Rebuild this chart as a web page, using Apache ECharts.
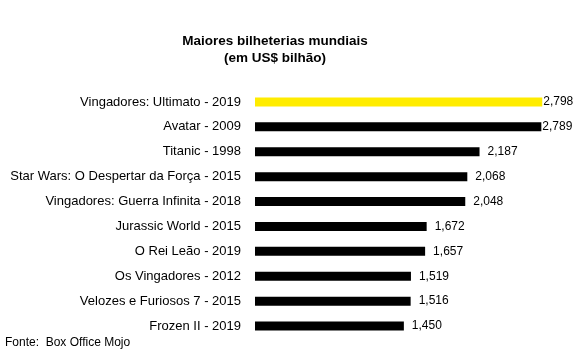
<!DOCTYPE html>
<html>
<head>
<meta charset="utf-8">
<script src="https://cdn.jsdelivr.net/npm/echarts@6/dist/echarts.min.js"></script>
<style>
  html, body { margin: 0; padding: 0; background: #fff; }
  #chart { width: 578px; height: 354px; }
</style>
</head>
<body>
<div id="chart"></div>
<script>
  // filmes, de cima para baixo
  var filmes = [
    'Vingadores: Ultimato - 2019',
    'Avatar - 2009',
    'Titanic - 1998',
    'Star Wars: O Despertar da Força - 2015',
    'Vingadores: Guerra Infinita - 2018',
    'Jurassic World - 2015',
    'O Rei Leão - 2019',
    'Os Vingadores - 2012',
    'Velozes e Furiosos 7 - 2015',
    'Frozen II - 2019'
  ];
  // bilheteria em US$ bilhão
  var bilheteria = [2.798, 2.789, 2.187, 2.068, 2.048, 1.672, 1.657, 1.519, 1.516, 1.450];
  var destaque = 0; // barra amarela

  var fonte = 'Liberation Sans';
  var chart = echarts.init(document.getElementById('chart'));

  var dados = bilheteria.map(function (v, i) {
    return {
      value: v,
      itemStyle: { color: i === destaque ? '#FFEC00' : '#000000' },
      // rotulos das maiores barras ficam colados pra nao sair da area
      label: { distance: v > 2.5 ? 1 : 8 }
    };
  });

  var option = {
    animation: false,
    title: {
      text: 'Maiores bilheterias mundiais\n(em US$ bilhão)',
      left: 270,
      top: 28,
      textAlign: 'center',
      textStyle: {
        fontFamily: fonte,
        fontSize: 13.5,
        fontWeight: 'bold',
        color: '#000',
        lineHeight: 17
      }
    },
    graphic: [{
      type: 'text',
      left: 5,
      top: 337,
      style: {
        text: 'Fonte:  Box Office Mojo',
        fontFamily: fonte,
        fontSize: 12,
        fill: '#000'
      }
    }],
    grid: { left: 255, right: 15, top: 89.5, height: 249, containLabel: false },
    xAxis: {
      type: 'value',
      min: 0,
      max: 3,
      show: false
    },
    yAxis: {
      type: 'category',
      data: filmes,
      inverse: true,
      axisLine: { show: false },
      axisTick: { show: false },
      axisLabel: {
        margin: 14,
        fontFamily: fonte,
        fontSize: 13,
        color: '#000'
      }
    },
    series: [{
      type: 'bar',
      data: dados,
      barWidth: 9,
      label: {
        show: true,
        position: 'right',
        fontFamily: fonte,
        fontSize: 12,
        color: '#000',
        formatter: function (p) {
          return p.value.toFixed(3).replace('.', ',');
        }
      }
    }]
  };

  chart.setOption(option);
</script>
</body>
</html>
